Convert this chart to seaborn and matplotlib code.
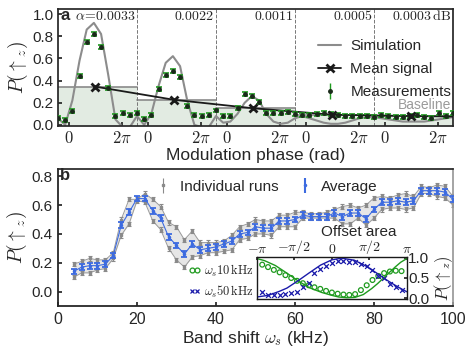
import numpy as np
import matplotlib
matplotlib.use("Agg")
import matplotlib.pyplot as plt
import seaborn as sns
from matplotlib.lines import Line2D

sns.set_theme(style="ticks")
plt.rcParams['font.family'] = ['Liberation Sans', 'DejaVu Sans']
plt.rcParams['mathtext.fontset'] = 'cm'

# ---------------- panel a data ----------------
alpha_labels = [r"$\alpha\!=\!0.0033$", r"$0.0022$", r"$0.0011$", r"$0.0005$", r"$0.0003\,\mathrm{dB}$"]
seg_width = 3 * np.pi       # each segment spans 3 pi of phase
phase_offset = 0.42 * np.pi  # where phase 0 sits inside a segment

meas = [0.06, 0.04, 0.125, 0.44, 0.75, 0.82, 0.70, 0.33, 0.08, 0.11, 0.09, 0.11,
        0.05, 0.09, 0.32, 0.45, 0.49, 0.43, 0.17, 0.09, 0.08, 0.09, 0.13,
        0.08, 0.08, 0.15, 0.28, 0.26, 0.21, 0.11, 0.11, 0.11, 0.12, 0.10,
        0.09, 0.09, 0.10, 0.11, 0.10, 0.09, 0.08, 0.08, 0.08, 0.08, 0.07,
        0.09, 0.08, 0.07, 0.07, 0.08, 0.09, 0.07, 0.06, 0.11, 0.08, 0.11]
meas_err = 0.018
sim = [0.06, 0.0, 0.22, 0.58, 0.86, 0.92, 0.82, 0.45, 0.05, -0.02, -0.02, 0.08,
       0.0, 0.10, 0.35, 0.56, 0.62, 0.53, 0.22, 0.0, -0.02, -0.02, 0.08,
       0.02, 0.03, 0.10, 0.20, 0.26, 0.22, 0.10, 0.03, 0.01, 0.02, 0.06,
       0.08, 0.06, 0.04, 0.02, 0.01, 0.01, 0.02, 0.04, 0.06, 0.07, 0.07,
       0.06, 0.05, 0.04, 0.03, 0.03, 0.03, 0.03, 0.04, 0.05, 0.06, 0.07]
mean_signal = [0.345, 0.226, 0.15, 0.092, 0.08]

# ---------------- panel b data ----------------
shift = np.arange(4, 101, 2)
avg = [0.14, 0.17, 0.18, 0.18, 0.19, 0.25, 0.46, 0.55, 0.645, 0.645,
       0.56, 0.51, 0.38, 0.32, 0.26, 0.33, 0.29, 0.30, 0.31, 0.33,
       0.35, 0.40, 0.41, 0.45, 0.44, 0.44, 0.49, 0.49, 0.50, 0.53,
       0.52, 0.52, 0.52, 0.545, 0.52, 0.545, 0.545, 0.505, 0.57, 0.62,
       0.62, 0.63, 0.62, 0.63, 0.70, 0.70, 0.70, 0.69, 0.64]
run_hi = [0.19, 0.21, 0.23, 0.22, 0.22, 0.27, 0.50, 0.64, 0.64, 0.68,
          0.64, 0.59, 0.48, 0.45, 0.36, 0.42, 0.34, 0.34, 0.34, 0.35,
          0.39, 0.45, 0.47, 0.50, 0.49, 0.49, 0.53, 0.53, 0.55, 0.55,
          0.54, 0.54, 0.55, 0.57, 0.59, 0.60, 0.58, 0.60, 0.65, 0.66,
          0.65, 0.67, 0.68, 0.66, 0.73, 0.72, 0.74, 0.73, 0.66]
run_lo = [0.10, 0.13, 0.13, 0.15, 0.16, 0.23, 0.39, 0.47, 0.63, 0.62,
          0.49, 0.43, 0.30, 0.22, 0.17, 0.24, 0.25, 0.27, 0.27, 0.28,
          0.29, 0.36, 0.37, 0.40, 0.40, 0.39, 0.45, 0.45, 0.45, 0.51,
          0.51, 0.51, 0.51, 0.51, 0.47, 0.47, 0.51, 0.46, 0.51, 0.57,
          0.58, 0.58, 0.57, 0.58, 0.68, 0.68, 0.66, 0.65, 0.60]

# ---------------- inset data (offset area) ----------------
inset_phase = np.linspace(-0.93, 0.93, 25) * np.pi
pts_10k = [0.83, 0.77, 0.70, 0.64, 0.57, 0.50, 0.43, 0.37, 0.32, 0.27, 0.23, 0.18, 0.14,
           0.11, 0.09, 0.08, 0.10, 0.20, 0.32, 0.45, 0.55, 0.62, 0.66, 0.68, 0.67]
pts_50k = [0.15, 0.08, 0.08, 0.08, 0.10, 0.13, 0.15, 0.27, 0.38, 0.62, 0.72, 0.80, 0.88,
           0.93, 0.93, 0.89, 0.89, 0.85, 0.79, 0.69, 0.55, 0.49, 0.35, 0.27, 0.20]
line10_phase = np.array([-1.0, -0.9, -0.756, -0.6, -0.445, -0.3, -0.133, 0.0, 0.088, 0.2,
                         0.31, 0.42, 0.533, 0.61, 0.69, 0.77, 0.844, 0.92, 1.0]) * np.pi
line10 = [0.98, 0.93, 0.81, 0.62, 0.42, 0.26, 0.14, 0.07, 0.03, 0.01,
          0.02, 0.09, 0.24, 0.36, 0.50, 0.64, 0.77, 0.89, 0.98]
line50_phase = np.array([-1.0, -0.85, -0.7, -0.6, -0.445, -0.3, -0.15, 0.0, 0.13, 0.3,
                         0.45, 0.6, 0.69, 0.8, 0.9, 1.0]) * np.pi
line50 = [0.03, 0.07, 0.17, 0.25, 0.44, 0.63, 0.82, 0.95, 0.99, 0.94,
          0.80, 0.62, 0.50, 0.37, 0.26, 0.16]

green = '#1e9a1e'
blue = '#3d6be0'
navy = '#1a1aaa'
gray = '#8a8a8a'

fig = plt.figure(figsize=(4.71, 3.53), dpi=100)
ax = fig.add_axes([0.1231, 0.643, 0.8386, 0.3314])
axb = fig.add_axes([0.1231, 0.1331, 0.8386, 0.388])

# ---------- panel a ----------
nseg = len(mean_signal)
xmax = nseg * seg_width
xg = np.linspace(0, xmax, len(meas))
for k in range(nseg):
    x0, x1 = k * seg_width, (k + 1) * seg_width
    ax.fill_between([x0, x1], 0, mean_signal[k], color='#e2ebe2', lw=0, zorder=0)
    ax.plot([x0, x1], [mean_signal[k]] * 2, color=gray, lw=1.2, zorder=1)
    if k > 0:
        ax.axvline(x0, color='#777777', ls='--', lw=0.7, zorder=1)
    ax.text(x1 - 0.06 * np.pi, 0.985, alpha_labels[k], ha='right', va='center', fontsize=10)

sns.lineplot(x=xg, y=sim, ax=ax, color='#8c8c8c', lw=1.5, zorder=2)
mean_x = np.arange(nseg) * seg_width + phase_offset + np.pi
line_x = np.r_[mean_x, xmax]
line_y = np.r_[mean_signal, mean_signal[-1] - 0.004]
ax.plot(line_x, line_y, color='k', lw=1.3, zorder=3)
ax.plot(mean_x, mean_signal, 'x', color='k', ms=6, mew=2, zorder=5)
ax.errorbar(xg, meas, yerr=meas_err, fmt='o', ms=2.5, mfc='#1a2a1a', mec='#1a2a1a',
            ecolor=green, elinewidth=1, capsize=2.5, capthick=1.2, zorder=4)

ticks = []
labels = []
for k in range(nseg):
    ticks += [k * seg_width + phase_offset, k * seg_width + phase_offset + 2 * np.pi]
    labels += [r"$0$", r"$2\pi$"]
ax.set_xticks(ticks)
ax.set_xticklabels(labels, fontsize=12)
ax.set_xlim(0, xmax)
ax.set_ylim(-0.01, 1.045)
ax.set_yticks([0, 0.2, 0.4, 0.6, 0.8, 1.0])
ax.set_yticklabels(["0.0", "0.2", "0.4", "0.6", "0.8", "1.0"], fontsize=11)
ax.tick_params(direction='in', length=3, pad=3)
ax.set_xlabel("Modulation phase (rad)", fontsize=12.5, labelpad=1)
ax.set_ylabel(r"$P(\uparrow_z)$", fontsize=14, labelpad=2)
ax.text(0.006, 0.945, "a", transform=ax.transAxes, fontsize=12, fontweight='bold', va='center')
ax.text(0.995, 0.18, "Baseline", transform=ax.transAxes, ha='right', va='center',
        fontsize=10, color='#9a9a9a')

h_sim = Line2D([], [], color='#8c8c8c', lw=1.5)
h_mean = Line2D([], [], color='k', lw=1.3, marker='x', ms=6, mew=2)
h_meas = ax.errorbar([], [], yerr=[], fmt='o', ms=2.5, mfc='#1a2a1a', mec='#1a2a1a',
                     ecolor=green, elinewidth=1, capsize=2.5)
ax.legend([h_sim, h_mean, h_meas], ["Simulation", "Mean signal", "Measurements"],
          loc='upper left', bbox_to_anchor=(0.64, 0.81), frameon=False, fontsize=11,
          labelspacing=0.6, handlelength=1.5, handletextpad=0.6, borderpad=0)

# ---------- panel b ----------
axb.fill_between(shift, run_lo, run_hi, color='#e6e6e6', lw=0, zorder=0)
axb.plot(shift, run_hi, color='#9a9a9a', lw=0.7, zorder=1)
axb.plot(shift, run_lo, color='#9a9a9a', lw=0.7, zorder=1)
axb.errorbar(shift, run_hi, yerr=0.015, fmt='s', ms=1.5, color=gray, elinewidth=0.8,
             capsize=1.5, capthick=0.8, zorder=2)
axb.errorbar(shift, run_lo, yerr=0.015, fmt='s', ms=1.5, color=gray, elinewidth=0.8,
             capsize=1.5, capthick=0.8, zorder=2)
sns.lineplot(x=shift, y=avg, ax=axb, color=blue, lw=0.8, zorder=3)
axb.errorbar(shift, avg, yerr=0.02, fmt='.', ms=3, color=blue, elinewidth=1.5,
             capsize=2, capthick=1.3, zorder=4)
axb.set_xlim(0, 100)
axb.set_ylim(-0.1, 0.85)
axb.set_xticks([0, 20, 40, 60, 80, 100])
axb.set_yticks([0, 0.2, 0.4, 0.6, 0.8])
axb.set_yticklabels(["0.0", "0.2", "0.4", "0.6", "0.8"], fontsize=11)
axb.tick_params(axis='x', labelsize=11.5)
axb.tick_params(direction='in', length=3, pad=4)
for side in ['left', 'bottom']:
    axb.spines[side].set_linewidth(1.3)
axb.spines['right'].set_color('#999999')
axb.set_xlabel(r"Band shift $\omega_s$ (kHz)", fontsize=12.5, labelpad=2)
axb.set_ylabel(r"$P(\uparrow_z)$", fontsize=14, labelpad=2)
axb.text(0.006, 0.95, "b", transform=axb.transAxes, fontsize=12, fontweight='bold', va='center')

h_run = axb.errorbar([], [], yerr=[], fmt='s', ms=1.5, color=gray, elinewidth=0.8, capsize=1.5)
h_avg = axb.errorbar([], [], yerr=[], fmt='.', ms=3, color=blue, elinewidth=1.5, capsize=2)
axb.legend([h_run, h_avg], ["Individual runs", "Average"], loc='upper left',
           bbox_to_anchor=(0.22, 1.0), ncol=2, frameon=False, fontsize=11,
           handlelength=1.0, handletextpad=0.6, columnspacing=1.2, borderpad=0.2)

# ---------- inset ----------
axi = fig.add_axes([0.5456, 0.153, 0.318, 0.119])
sns.lineplot(x=line10_phase, y=line10, ax=axi, color=green, lw=1)
sns.lineplot(x=line50_phase, y=line50, ax=axi, color=navy, lw=1)
axi.scatter(inset_phase, pts_10k, s=12, facecolors='none', edgecolors=green, lw=0.9)
axi.scatter(inset_phase, pts_50k, s=12, marker='x', color=navy, lw=0.9)
axi.set_xlim(-np.pi, np.pi)
axi.set_ylim(-0.02, 1.02)
axi.xaxis.tick_top()
axi.set_xticks([-np.pi, -np.pi / 2, 0, np.pi / 2, np.pi])
axi.set_xticklabels([r"$-\pi$", r"$-\pi/2$", r"$0$", r"$\pi/2$", r"$\pi$"], fontsize=10)
axi.yaxis.tick_right()
axi.yaxis.set_label_position('right')
axi.set_yticks([0, 0.5, 1.0])
axi.set_yticklabels(["0.0", "0.5", "1.0"], fontsize=11)
axi.tick_params(direction='in', length=2, pad=1)
axi.set_ylabel(r"$P(\uparrow_z)$", fontsize=12, labelpad=2)
axi.text(0.68, 1.6, "Offset area", transform=axi.transAxes, ha='center', va='center',
         fontsize=11)
for s in axi.spines.values():
    s.set_linewidth(1.0)
    s.set_color('k')
h10 = Line2D([], [], ls='none', marker='o', mfc='none', mec=green, ms=3.5, mew=0.9)
h50 = Line2D([], [], ls='none', marker='x', color=navy, ms=3.5, mew=0.9)
axi.legend([h10, h50], [r"$\omega_s 10\,\mathrm{kHz}$", r"$\omega_s 50\,\mathrm{kHz}$"],
           loc='center right', bbox_to_anchor=(0.0, 0.42), frameon=False, fontsize=9,
           numpoints=2, handlelength=1.0, handletextpad=0.3, labelspacing=0.4, borderpad=0,
           borderaxespad=0.2)

fig.savefig("out.png", dpi=100)
